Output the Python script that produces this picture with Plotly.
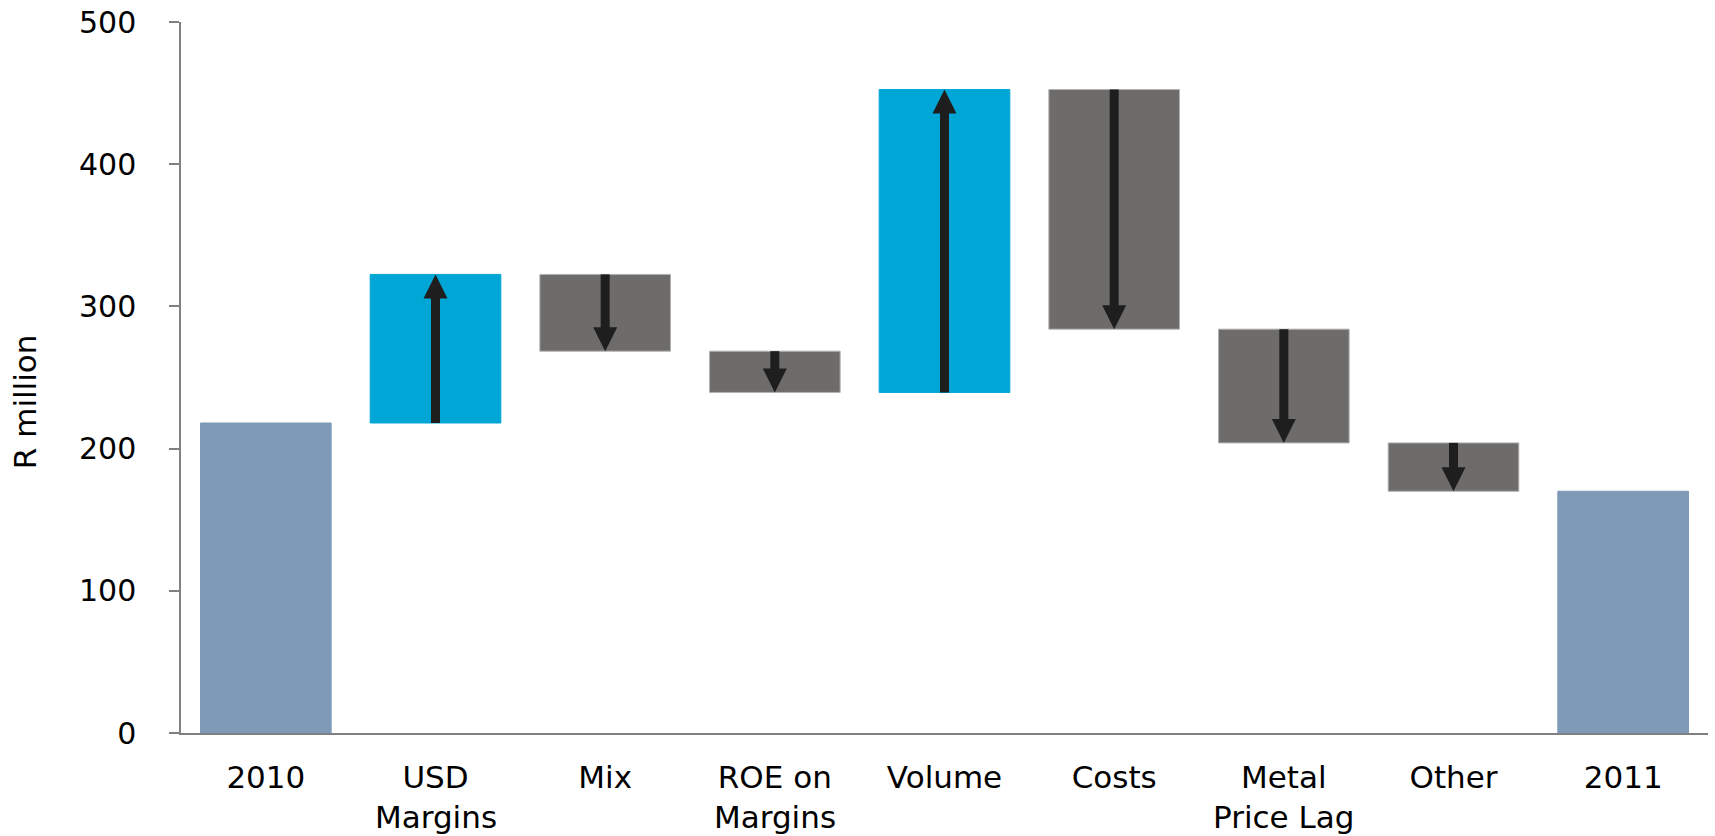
import plotly.graph_objects as go

# ---- data ----
categories = ["2010", "USD<br>Margins", "Mix", "ROE on<br>Margins", "Volume",
              "Costs", "Metal<br>Price Lag", "Other", "2011"]
start_value = 218
changes = [104.5, -54, -29, 213, -168.5, -80, -34]
end_value = 170
y_tick_values = [0, 100, 200, 300, 400, 500]
y_title = "R million"

# ---- style ----
COL_TOTAL = "#7f9ab7"
COL_UP = "#00a7d6"
COL_DOWN = "#6d6c6a"
COL_DOWN_EDGE = "#b2b2b2"
COL_ARROW = "#1e1e1e"
COL_AXIS = "#808080"
FONT = "DejaVu Sans, Verdana, sans-serif"
FS_X = 31
FS_Y = 30

W, H = 1715, 836
M_L, M_R, M_T, M_B = 181, 7, 22, 103
Y_MAX = 500

# ---- build bars ----
bases, heights, colors, edges = [], [], [], []
bases.append(0); heights.append(start_value); colors.append(COL_TOTAL); edges.append(COL_TOTAL)
running = start_value
for c in changes:
    if c >= 0:
        bases.append(running); heights.append(c); colors.append(COL_UP); edges.append(COL_UP)
    else:
        bases.append(running + c); heights.append(-c); colors.append(COL_DOWN); edges.append(COL_DOWN_EDGE)
    running += c
bases.append(0); heights.append(end_value); colors.append(COL_TOTAL); edges.append(COL_TOTAL)

xs = list(range(len(categories)))

fig = go.Figure()
fig.add_trace(go.Bar(
    x=xs, y=heights, base=bases,
    marker=dict(color=colors, line=dict(color=edges, width=1)),
    width=0.77, hoverinfo="skip", showlegend=False,
))

# ---- arrows (derived from the data) ----
plot_w = W - M_L - M_R
plot_h = H - M_T - M_B
px_x = len(categories) / plot_w       # data units per px along x
px_y = Y_MAX / plot_h                 # data units per px along y
head_half_w = 12 * px_x
head_h = 24 * px_y

shapes = []
running = start_value
for i, c in enumerate(changes, start=1):
    start = running
    end = running + c
    running = end
    d = 1 if c > 0 else -1
    head_base = end - d * head_h
    shapes.append(dict(type="line", xref="x", yref="y",
                       x0=i, x1=i, y0=start, y1=head_base + d * 2 * px_y,
                       line=dict(color=COL_ARROW, width=9), layer="above"))
    shapes.append(dict(type="path", xref="x", yref="y",
                       path=f"M {i - head_half_w},{head_base} L {i + head_half_w},{head_base} L {i},{end} Z",
                       fillcolor=COL_ARROW, line=dict(color=COL_ARROW, width=0), layer="above"))

# ---- category labels: first line as tick label, second line as annotation ----
first_lines = [c.split("<br>")[0] for c in categories]
annotations = []
for i, c in enumerate(categories):
    parts = c.split("<br>")
    if len(parts) > 1:
        annotations.append(dict(
            x=i, xref="x", y=0, yref="paper", yanchor="top", xanchor="center",
            yshift=-63.5, text=parts[1], showarrow=False,
            font=dict(size=FS_X, family=FONT, color="#000000"),
        ))

# y-axis title (placed slightly below axis centre, as in the source)
annotations.append(dict(
    x=(25.8 - M_L) / plot_w, xref="paper",
    y=(733.3 - 401.7) / plot_h, yref="paper",
    xanchor="center", yanchor="middle", textangle=-90,
    text=y_title, showarrow=False,
    font=dict(size=FS_X, family=FONT, color="#000000"),
))

fig.update_layout(
    width=W, height=H,
    margin=dict(l=M_L, r=M_R, t=M_T, b=M_B, pad=0, autoexpand=False),
    paper_bgcolor="white", plot_bgcolor="white",
    font=dict(family=FONT, size=FS_X, color="#000000"),
    bargap=0.23,
    shapes=shapes,
    annotations=annotations,
    xaxis=dict(
        range=[-0.5, len(categories) - 0.5],
        tickmode="array", tickvals=xs, ticktext=first_lines,
        showline=True, linecolor=COL_AXIS, linewidth=1.5,
        ticks="", showgrid=False, zeroline=False, automargin=False,
        tickfont=dict(size=FS_X, family=FONT, color="#000000"),
        ticklabelstandoff=16,
    ),
    yaxis=dict(
        range=[0, Y_MAX],
        tickmode="array", tickvals=y_tick_values,
        showline=True, linecolor=COL_AXIS, linewidth=1.5,
        ticks="outside", ticklen=10, tickcolor=COL_AXIS, tickwidth=1.5,
        showgrid=False, zeroline=False, automargin=False,
        tickfont=dict(size=FS_Y, family=FONT, color="#000000"),
        ticklabelstandoff=27,
    ),
)

fig.write_html("out.html")
